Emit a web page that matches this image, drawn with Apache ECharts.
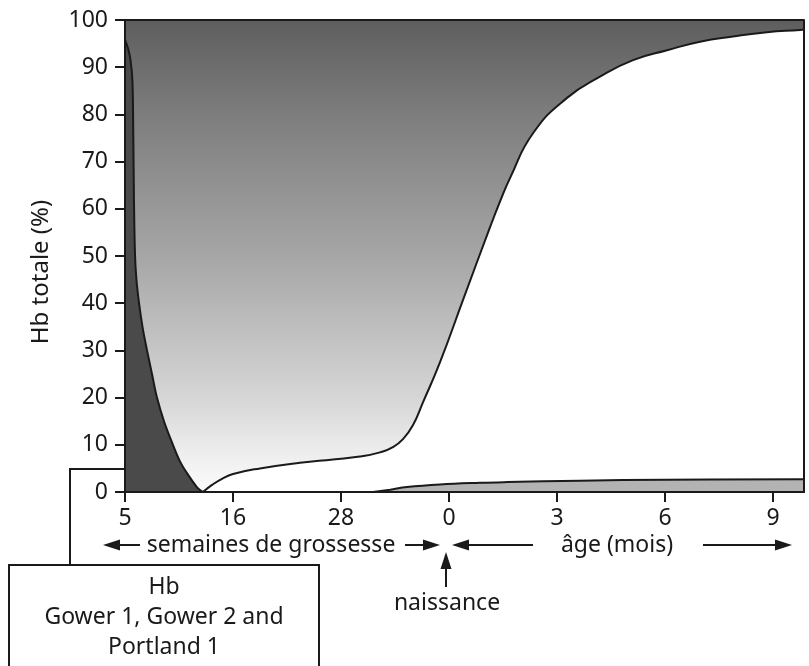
<!DOCTYPE html>
<html>
<head>
<meta charset="utf-8">
<script src="https://cdn.jsdelivr.net/npm/echarts@6/dist/echarts.min.js"></script>
<style>
html, body { margin: 0; padding: 0; background: #fff; }
#chart { width: 809px; height: 666px; }
</style>
</head>
<body>
<div id="chart"></div>
<script>
// x is measured in tick steps: 5, 16, 28 weeks of pregnancy, birth, then 3, 6, 9 months
const tickLabels = ['5', '16', '28', '0', '3', '6', '9']
const tickValues = [0, 1, 2, 3, 4, 5, 6]
const xMax = 6.287

// Hb Gower 1, Gower 2 and Portland 1 (embryonic)
const embryoX = [0, 0.028, 0.051, 0.069, 0.077, 0.083, 0.093, 0.106, 0.13, 0.162, 0.204, 0.25, 0.296, 0.361, 0.444, 0.509, 0.574, 0.667, 0.722]
const embryoY = [95.8, 94, 91.5, 87, 75, 62, 50, 45, 40, 35, 30, 25, 20, 15, 10, 6.5, 4, 1, 0]

// Hb A (upper edge of the white area)
const hbAX = [0.722, 0.806, 0.898, 1.0, 1.25, 1.62, 1.926, 2.176, 2.361, 2.481, 2.574, 2.667, 2.759, 2.917, 3.13, 3.38, 3.472, 3.565, 3.778, 4.093, 4.398, 4.704, 5.019, 5.324, 5.63, 5.944, 6.25, 6.287]
const hbAY = [0, 1.5, 2.8, 3.8, 5.0, 6.2, 6.9, 7.5, 8.4, 9.5, 11.2, 14.2, 19, 27.5, 40.7, 56.1, 61.5, 66.5, 76, 83.5, 88, 91.5, 93.6, 95.4, 96.5, 97.4, 97.9, 98]

// Hb A2
const hbA2X = [2.296, 2.454, 2.611, 2.917, 3.287, 3.537, 4.213, 5.009, 6.287]
const hbA2Y = [0, 0.5, 1.05, 1.6, 1.95, 2.1, 2.4, 2.6, 2.7]

// Hb F fills everything up to 100 %
const hbFX = [0, xMax]
const hbFY = [100, 100]

const zip = (xs, ys) => xs.map((x, i) => [x, ys[i]])

const ink = '#1a1a1a'
const font = '"Noto Sans", "Open Sans", sans-serif'

function arrow(x1, y1, x2, y2) {
  // shaft from (x1,y1) to the tip (x2,y2)
  const len = Math.hypot(x2 - x1, y2 - y1)
  const ux = (x2 - x1) / len
  const uy = (y2 - y1) / len
  const hl = 17
  const hw = 5.5
  const bx = x2 - ux * hl
  const by = y2 - uy * hl
  return [
    { type: 'line', shape: { x1: x1, y1: y1, x2: bx, y2: by }, style: { stroke: ink, lineWidth: 2 } },
    {
      type: 'polygon',
      shape: { points: [[x2, y2], [bx - uy * hw, by + ux * hw], [bx + uy * hw, by - ux * hw]] },
      style: { fill: ink }
    }
  ]
}

function label(text, x, y, size, extra) {
  return Object.assign({
    type: 'text',
    x: x,
    y: y,
    style: { text: text, fill: ink, font: size + 'px ' + font, align: 'center', verticalAlign: 'middle' }
  }, extra || {})
}

const myChart = echarts.init(document.getElementById('chart'))

const option = {
  animation: false,
  backgroundColor: '#fff',
  grid: { left: 125, top: 20, width: 679, height: 472 },
  xAxis: {
    type: 'value',
    min: 0,
    max: xMax,
    z: 10,
    splitLine: { show: false },
    axisLine: { onZero: false, lineStyle: { color: ink, width: 2 } },
    axisTick: { customValues: tickValues, length: 10, lineStyle: { color: ink, width: 2 } },
    axisLabel: {
      customValues: tickValues,
      margin: 15,
      color: ink,
      fontSize: 23,
      fontFamily: font,
      formatter: v => tickLabels[Math.round(v)]
    }
  },
  yAxis: [
    {
      type: 'value',
      min: 0,
      max: 100,
      interval: 10,
      z: 10,
      splitLine: { show: false },
      axisLine: { show: true, lineStyle: { color: ink, width: 2 } },
      axisTick: { show: true, length: 10, lineStyle: { color: ink, width: 2 } },
      axisLabel: { margin: 17, color: ink, fontSize: 23, fontFamily: font }
    },
    {
      type: 'value',
      position: 'right',
      min: 0,
      max: 100,
      z: 10,
      splitLine: { show: false },
      axisLine: { show: true, lineStyle: { color: ink, width: 2 } },
      axisTick: { show: false },
      axisLabel: { show: false }
    }
  ],
  series: [
    {
      name: 'Hb F',
      type: 'line',
      data: zip(hbFX, hbFY),
      showSymbol: false,
      lineStyle: { color: ink, width: 2 },
      areaStyle: {
        opacity: 1,
        color: new echarts.graphic.LinearGradient(0, 0, 0, 1, [
          { offset: 0, color: '#5e5e5e' },
          { offset: 0.2, color: '#7d7d7d' },
          { offset: 0.5, color: '#a6a6a6' },
          { offset: 0.8, color: '#d6d6d6' },
          { offset: 0.9, color: '#eaeaea' },
          { offset: 1, color: '#fcfcfc' }
        ])
      },
      z: 1
    },
    {
      name: 'Hb A',
      type: 'line',
      data: zip(hbAX, hbAY),
      showSymbol: false,
      smooth: 0.5,
      lineStyle: { color: ink, width: 2 },
      areaStyle: { color: '#ffffff', opacity: 1 },
      z: 2
    },
    {
      name: 'Hb A2',
      type: 'line',
      data: zip(hbA2X, hbA2Y),
      showSymbol: false,
      smooth: 0.4,
      lineStyle: { color: ink, width: 2 },
      areaStyle: { color: '#b3b3b3', opacity: 1 },
      z: 3
    },
    {
      name: 'Hb Gower 1, Gower 2 and Portland 1',
      type: 'line',
      data: zip(embryoX, embryoY),
      showSymbol: false,
      smooth: 0.35,
      lineStyle: { color: ink, width: 2 },
      areaStyle: { color: '#4a4a4a', opacity: 1 },
      z: 3
    }
  ],
  graphic: [
    label('Hb totale (%)', 41, 272, 24, { rotation: Math.PI / 2 }),
    label('Hb F', 302, 113, 23),
    label('Hb A', 656, 262, 23),
    {
      type: 'text',
      x: 617,
      y: 444,
      style: {
        text: '{m|Hb A}{s|2}',
        align: 'center',
        verticalAlign: 'middle',
        rich: {
          m: { fill: ink, font: '23px ' + font },
          s: { fill: ink, font: '16px ' + font, padding: [12, 0, 0, 2] }
        }
      }
    },
    { type: 'line', shape: { x1: 600, y1: 455, x2: 600, y2: 473 }, style: { stroke: ink, lineWidth: 2 } },
    ...arrow(140, 545, 103, 545),
    label('semaines de grossesse', 271, 545, 23),
    ...arrow(405, 545, 440, 545),
    ...arrow(533, 545, 452, 545),
    label('âge (mois)', 617, 545, 23),
    ...arrow(703, 545, 792, 545),
    ...arrow(446, 587, 446, 552),
    label('naissance', 447, 603, 23),
    {
      type: 'polyline',
      shape: { points: [[125, 469], [70, 469], [70, 565]] },
      style: { stroke: ink, lineWidth: 2, fill: null }
    },
    {
      type: 'rect',
      shape: { x: 9, y: 565, width: 310, height: 120 },
      style: { stroke: ink, lineWidth: 2, fill: '#fff' }
    },
    label('Hb', 164, 587, 23),
    label('Gower 1, Gower 2 and', 164, 617, 23),
    label('Portland 1', 164, 647, 23)
  ]
}

myChart.setOption(option)
window.addEventListener('resize', () => { myChart.resize() })
</script>
</body>
</html>
